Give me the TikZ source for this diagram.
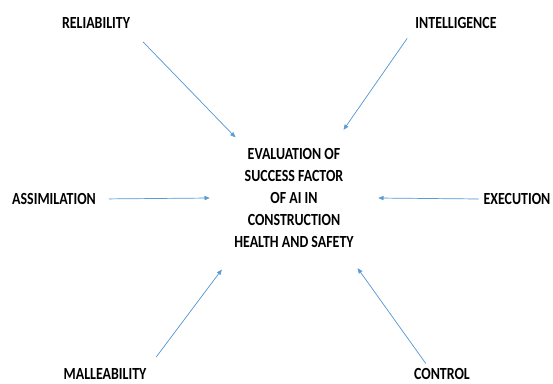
\documentclass[tikz,border=0pt]{standalone}
\usepackage{fontspec}
\setmainfont{Carlito}[FakeStretch=0.82]
\usetikzlibrary{arrows.meta}
\definecolor{linkblue}{RGB}{91,155,213}

\begin{document}
\begin{tikzpicture}[x=0.03cm,y=-0.03cm,>={Triangle[length=4.5pt,width=3.6pt]},factor/.style={font=\fontsize{14.5}{16}\selectfont\bfseries, inner sep=4pt},goal/.style={circle, inner sep=0pt, minimum size=5.04cm, align=center, font=\fontsize{14.5}{18.7}\selectfont\bfseries},link/.style={->, draw=linkblue, fill=linkblue, line width=0.6pt}]
\useasboundingbox (0,0) rectangle (553,383);
\draw (96,23) node[factor] (Rel) {RELIABILITY};
\draw (456,23) node[factor] (Int) {INTELLIGENCE};
\draw (54,199) node[factor] (Asi) {ASSIMILATION};
\draw (517,199) node[factor] (Exe) {EXECUTION};
\draw (105,374) node[factor] (Mal) {MALLEABILITY};
\draw (442,374) node[factor] (Con) {CONTROL};
\draw (294,198) node[goal] (Eva) {EVALUATION OF\\SUCCESS FACTOR\\OF AI IN\\CONSTRUCTION\\HEALTH AND SAFETY};
\draw[link,shorten <=10pt] (Rel.south east)--(Eva.134.5);
\draw[link,shorten <=5pt] (Int.south west)--(Eva.54.4);
\draw[link,shorten <=7pt] (Asi.east)--(Eva.180);
\draw[link] (Exe.west)--(Eva.0);
\draw[link,shorten <=7pt,shorten >=15pt] (Mal.north east)--(Eva.223);
\draw[link,shorten >=9pt] (Con.147)--(Eva.313.3);
\end{tikzpicture}
\end{document}
